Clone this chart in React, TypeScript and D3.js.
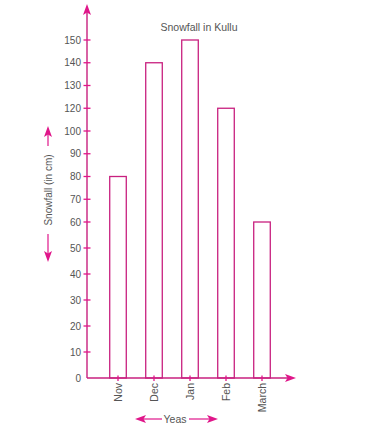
import React from "react";
import * as d3 from "d3";

const months = ["Nov", "Dec", "Jan", "Feb", "March"];
const snowfall = [80, 140, 150, 120, 60];
// the printed axis skips 110
const yTicks = [0, 10, 20, 30, 40, 50, 60, 70, 80, 90, 100, 120, 130, 140, 150];

const W = 390;
const H = 436;
const axisX = 87;
const axisY = 378;
const pink = "#c8207f";
const arrowPink = "#e0168a";
const grey = "#555";
const font = "'Liberation Sans', Arial, sans-serif";

// figure is hand drawn: lower steps are wider than upper ones
const yRange = yTicks.map((v, i) => (i <= 6 ? axisY - i * 26 : axisY - 156 - (i - 6) * 22.75));
const y = d3.scaleLinear().domain(yTicks).range(yRange);

const x = d3.scaleBand<string>().domain(months).range([100, 280]).paddingInner(0.54).paddingOuter(0.27);

function arrowUp(cx: number, tipY: number) {
  return `M${cx},${tipY} L${cx + 4},${tipY + 11} L${cx},${tipY + 8.5} L${cx - 4},${tipY + 11} Z`;
}
function arrowDown(cx: number, tipY: number) {
  return `M${cx},${tipY} L${cx + 4},${tipY - 11} L${cx},${tipY - 8.5} L${cx - 4},${tipY - 11} Z`;
}
function arrowRight(tipX: number, cy: number) {
  return `M${tipX},${cy} L${tipX - 11},${cy - 4} L${tipX - 8.5},${cy} L${tipX - 11},${cy + 4} Z`;
}
function arrowLeft(tipX: number, cy: number) {
  return `M${tipX},${cy} L${tipX + 11},${cy - 4} L${tipX + 8.5},${cy} L${tipX + 11},${cy + 4} Z`;
}

export default function App() {
  return (
    <svg
      width={W}
      height={H}
      style={{ position: "absolute", left: 0, top: 0, background: "#fff" }}
      fontFamily={font}
    >
      <text x={199} y={31} fontSize={10.5} fill={grey} textAnchor="middle">
        Snowfall in Kullu
      </text>

      {/* bars */}
      {months.map((m, i) => (
        <rect
          key={m}
          x={x(m)}
          y={y(snowfall[i])}
          width={x.bandwidth()}
          height={axisY - y(snowfall[i])}
          fill="none"
          stroke={pink}
          strokeWidth={1.3}
        />
      ))}

      {/* y axis */}
      <line x1={axisX} x2={axisX} y1={axisY} y2={10} stroke={pink} strokeWidth={1.4} />
      <path d={arrowUp(axisX, 4)} fill={arrowPink} />
      {yTicks.map((t) => (
        <g key={t}>
          {t > 0 && (
            <line x1={axisX - 3.5} x2={axisX + 3.5} y1={y(t)} y2={y(t)} stroke={arrowPink} strokeWidth={1.3} />
          )}
          <text x={81} y={y(t)} dy="0.35em" fontSize={10} fill={grey} textAnchor="end">
            {t}
          </text>
        </g>
      ))}

      {/* x axis */}
      <line x1={axisX} x2={289} y1={axisY} y2={axisY} stroke={pink} strokeWidth={1.4} />
      <path d={arrowRight(296, axisY)} fill={arrowPink} />
      {months.map((m) => {
        const cx = x(m)! + x.bandwidth() / 2;
        return (
          <g key={m}>
            <line x1={cx} x2={cx} y1={axisY - 2.5} y2={axisY + 3} stroke={arrowPink} strokeWidth={1.3} />
            <text
              transform={`translate(${cx},${axisY + 5}) rotate(-90)`}
              dy="0.35em"
              fontSize={10.5}
              fill={grey}
              textAnchor="end"
            >
              {m}
            </text>
          </g>
        );
      })}

      {/* y axis title */}
      <line x1={48} x2={48} y1={133} y2={146} stroke={arrowPink} strokeWidth={1.2} />
      <path d={arrowUp(48, 126)} fill={arrowPink} />
      <text
        transform="translate(48,190) rotate(-90)"
        dy="0.35em"
        fontSize={10}
        fill={grey}
        textAnchor="middle"
      >
        Snowfall (in cm)
      </text>
      <line x1={48} x2={48} y1={234} y2={255} stroke={arrowPink} strokeWidth={1.2} />
      <path d={arrowDown(48, 262)} fill={arrowPink} />

      {/* x axis title */}
      <line x1={142} x2={162} y1={419} y2={419} stroke={arrowPink} strokeWidth={1.2} />
      <path d={arrowLeft(135, 419)} fill={arrowPink} />
      <text x={175} y={419} dy="0.35em" fontSize={10.5} fill={grey} textAnchor="middle">
        Yeas
      </text>
      <line x1={189} x2={211} y1={419} y2={419} stroke={arrowPink} strokeWidth={1.2} />
      <path d={arrowRight(218, 419)} fill={arrowPink} />
    </svg>
  );
}
